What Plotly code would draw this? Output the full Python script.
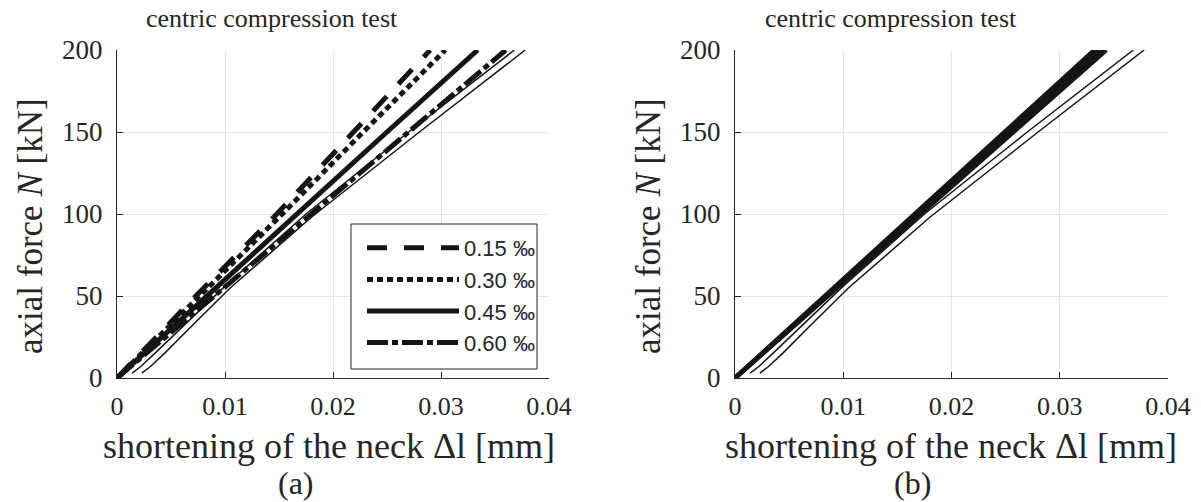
import plotly.graph_objects as go

# ---- data ----
force_levels = [0, 50, 100, 150, 200]            # axial force N [kN]
series_names = ["0.15 ‰", "0.30 ‰", "0.45 ‰", "0.60 ‰"]
dl_015 = [0, 0.0073, 0.0148, 0.0219, 0.0290]
dl_030 = [0, 0.0077, 0.0153, 0.0228, 0.0304]
dl_045 = [0, 0.0083, 0.0167, 0.0250, 0.0334]
dl_060 = [0, 0.0090, 0.0180, 0.0270, 0.0360]

# experimental curves (thin)
exp1_dl = [0.0014, 0.0022, 0.0035, 0.0060, 0.0100, 0.0175, 0.0270, 0.0368]
exp1_N = [3, 7, 15, 31, 56, 100, 150, 200]
exp2_dl = [0.0023, 0.0031, 0.0044, 0.0068, 0.0105, 0.0180, 0.0280, 0.0378]
exp2_N = [3, 7, 15, 31, 55, 98, 150, 200]

# panel (b) model curves
b_dl_1 = [0, 0.0083, 0.0166, 0.0249, 0.0332]
b_dl_2 = [0, 0.0084, 0.0168, 0.0252, 0.0336]
b_dl_3 = [0, 0.0085, 0.0170, 0.0255, 0.0340]
b_dl_4 = [0, 0.0086, 0.0171, 0.0257, 0.0343]

x_ticks = [0, 0.01, 0.02, 0.03, 0.04]
x_ticklabels = ["0", "0.01", "0.02", "0.03", "0.04"]
y_ticks = [0, 50, 100, 150, 200]

TXT = "#262626"
LINE = "#151515"
SERIF = "Liberation Serif, Times New Roman, serif"
SANS = "Liberation Sans, Arial, sans-serif"

fig = go.Figure()

dashes = ["20px,17px", "6px,4px", "solid", "21px,4px,6px,4px"]
for name, dl, dsh in zip(series_names, [dl_015, dl_030, dl_045, dl_060], dashes):
    fig.add_trace(go.Scatter(x=dl, y=force_levels, mode="lines", name=name,
                             line=dict(color=LINE, width=5, dash=dsh),
                             xaxis="x", yaxis="y", showlegend=True))
for xd, yd in [(exp1_dl, exp1_N), (exp2_dl, exp2_N)]:
    fig.add_trace(go.Scatter(x=xd, y=yd, mode="lines", line=dict(color=LINE, width=1.5),
                             xaxis="x", yaxis="y", showlegend=False))

for dl in [b_dl_1, b_dl_2, b_dl_3, b_dl_4]:
    fig.add_trace(go.Scatter(x=dl, y=force_levels, mode="lines",
                             line=dict(color=LINE, width=4.5),
                             xaxis="x2", yaxis="y2", showlegend=False))
for xd, yd in [(exp1_dl, exp1_N), (exp2_dl, exp2_N)]:
    fig.add_trace(go.Scatter(x=xd, y=yd, mode="lines", line=dict(color=LINE, width=1.5),
                             xaxis="x2", yaxis="y2", showlegend=False))

W, H = 1201, 502
def px(v):
    return v / W
def py(v):
    return 1 - v / H

xdomL = [px(117), px(549)]
xdomR = [px(735), px(1168)]
ydom = [py(378), py(50)]

common_x = dict(range=[0, 0.04], tickvals=x_ticks, ticktext=x_ticklabels,
                showgrid=True, gridcolor="#e6e6e6", gridwidth=1,
                showline=True, linecolor="#262626", linewidth=1,
                ticks="inside", ticklen=6, tickcolor="#262626",
                tickfont=dict(family=SERIF, size=26, color=TXT),
                ticklabelstandoff=5,
                zeroline=False, mirror=False, fixedrange=True, automargin=False)
common_y = dict(range=[0, 200], tickvals=y_ticks,
                showgrid=True, gridcolor="#e6e6e6", gridwidth=1,
                showline=True, linecolor="#262626", linewidth=1,
                ticks="inside", ticklen=6, tickcolor="#262626",
                tickfont=dict(family=SERIF, size=27, color=TXT),
                ticklabelstandoff=8,
                zeroline=False, mirror=False, fixedrange=True, automargin=False)

fig.update_layout(
    width=W, height=H,
    margin=dict(l=0, r=0, t=0, b=0, autoexpand=False),
    paper_bgcolor="white", plot_bgcolor="white",
    xaxis=dict(domain=xdomL, anchor="y", **common_x),
    yaxis=dict(domain=ydom, anchor="x", **common_y),
    xaxis2=dict(domain=xdomR, anchor="y2", **common_x),
    yaxis2=dict(domain=ydom, anchor="x2", **common_y),
    legend=dict(x=px(362), y=py(227), xanchor="left", yanchor="top",
                bgcolor="rgba(0,0,0,0)", borderwidth=0,
                font=dict(family=SANS, size=22, color=TXT),
                itemwidth=92, tracegroupgap=0),
    showlegend=True,
    shapes=[dict(type="rect", xref="paper", yref="paper",
                 x0=px(351), x1=px(537), y0=py(369), y1=py(224),
                 line=dict(color="#262626", width=1), fillcolor="white", layer="above")],
)

ann = []
def add_text(text, x, y, size, angle=0):
    ann.append(dict(text=text, x=px(x), y=py(y), xref="paper", yref="paper",
                    xanchor="center", yanchor="middle", textangle=angle,
                    showarrow=False, font=dict(family=SERIF, size=size, color=TXT)))

for cx in [272, 891]:
    add_text("centric compression test", cx, 19, 26)
for cx in [329, 951]:
    add_text("shortening of the neck Δl [mm]", cx, 446, 36)
for cx in [30, 648]:
    add_text("axial force <i>N</i> [kN]", cx, 226, 35, -90)
for cx, lab in [(296, "(a)"), (912, "(b)")]:
    add_text(lab, cx, 483, 32)
fig.update_layout(annotations=ann)

fig.write_html("out.html", config={"displayModeBar": False},
               post_script="document.body.style.margin='0px';")
